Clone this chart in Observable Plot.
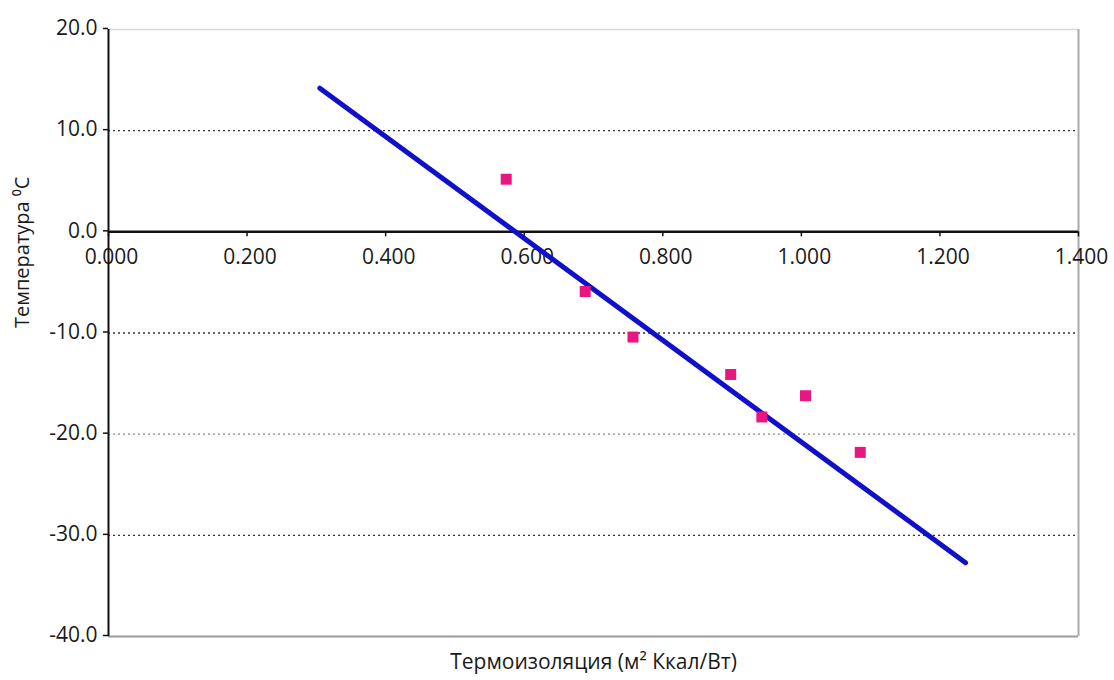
<!DOCTYPE html>
<html>
<head>
<meta charset="utf-8">
<script src="https://cdn.jsdelivr.net/npm/d3@7"></script>
<script src="https://cdn.jsdelivr.net/npm/@observablehq/plot@0.6"></script>
<style>
  html, body { margin: 0; padding: 0; background: #fff; }
  #chart svg { display: block; }
</style>
</head>
<body>
<div id="chart"></div>
<script>
// Measured points (thermal insulation vs temperature)
const insulation = [0.574, 0.688, 0.757, 0.898, 0.943, 1.006, 1.085];
const temperature = [5.2, -5.9, -10.4, -14.1, -18.3, -16.2, -21.8];

// Trend line end points
const trendX = [0.305, 1.237];
const trendY = [14.2, -32.7];

// Axis ticks
const xTicks = [0, 0.2, 0.4, 0.6, 0.8, 1.0, 1.2, 1.4];
const yTicks = [20, 10, 0, -10, -20, -30, -40];
const gridDark = [10, -10, -30];
const gridLight = [-20];

const xLabel = "Термоизоляция (м² Ккал/Вт)";
const yLabel = "Температура ⁰C";

const points = insulation.map((x, i) => ({x, y: temperature[i]}));
const trend = trendX.map((x, i) => ({x, y: trendY[i]}));

const font = "'Open Sans', 'DejaVu Sans', sans-serif";

const chart = Plot.plot({
  width: 1114,
  height: 680,
  marginLeft: 108,
  marginRight: 36,
  marginTop: 29,
  marginBottom: 44,
  style: {fontFamily: font, background: "#fff", color: "#1a1a1a"},
  x: {domain: [0, 1.4], axis: null},
  y: {domain: [-40, 20], axis: null},
  marks: [
    // frame pieces
    Plot.ruleY([20], {stroke: "#d8d8d8", strokeWidth: 1.5}),
    Plot.ruleX([1.4], {stroke: "#aaaaaa", strokeWidth: 2}),
    Plot.ruleY([-40], {stroke: "#9a9a9a", strokeWidth: 2}),
    // grid
    Plot.ruleY(gridDark, {stroke: "#333", strokeWidth: 1.4, strokeDasharray: "2,3"}),
    Plot.ruleY(gridLight, {stroke: "#888", strokeWidth: 1.4, strokeDasharray: "2,3"}),
    // left axis line
    Plot.ruleX([0], {stroke: "#111", strokeWidth: 2}),
    // y axis ticks & labels
    Plot.axisY(yTicks, {
      tickSize: 5, tickPadding: 6, fontSize: 21, dy: -1,
      tickFormat: d => d.toFixed(1), stroke: "#111", strokeWidth: 1.5,
      label: null, fill: "#1a1a1a"
    }),
    // zero line (x axis)
    Plot.ruleY([0], {stroke: "#111", strokeWidth: 2.5}),
    // x ticks at zero line
    Plot.ruleX(xTicks, {x: d => d, y1: 0, y2: 0, insetBottom: -5, stroke: "#111", strokeWidth: 1.5}),
    Plot.text(xTicks, {
      x: d => d, y: () => 0, dy: 25, dx: 3,
      text: d => d.toFixed(3), fontSize: 21, fill: "#1a1a1a"
    }),
    // trend line
    Plot.line(trend, {x: "x", y: "y", stroke: "#1010cc", strokeWidth: 5}),
    // measured points
    Plot.dot(points, {x: "x", y: "y", symbol: "square", r: 6.2, fill: "#e8167f", stroke: null}),
    // axis titles
    Plot.text([xLabel], {frameAnchor: "bottom", dy: 32, text: d => d, fontSize: 21, fill: "#1a1a1a"}),
    Plot.text([yLabel], {frameAnchor: "left", dx: -86, dy: -5, rotate: -90, text: d => d, fontSize: 20, fill: "#1a1a1a"})
  ]
});

document.getElementById("chart").appendChild(chart);
</script>
</body>
</html>
